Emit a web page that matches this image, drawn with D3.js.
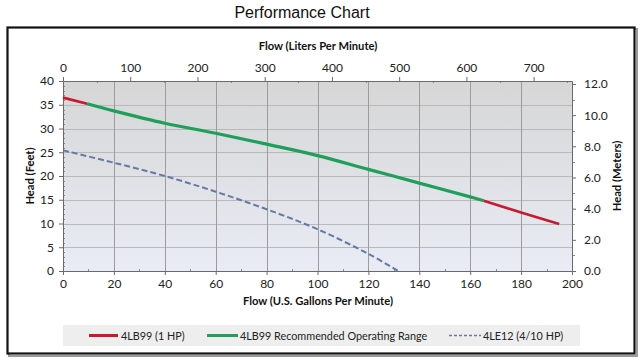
<!DOCTYPE html>
<html>
<head>
<meta charset="utf-8">
<script src="https://cdn.jsdelivr.net/npm/d3@7"></script>
<style>
  html, body { margin: 0; padding: 0; background: #ffffff; }
  svg { display: block; }
</style>
</head>
<body>
<svg id="chart" width="640" height="362"></svg>
<script>
// ---------- data ----------
const redStartFlow = [0, 9.5];
const redStartHead = [36.5, 35.2];
const greenFlow = [9.5, 20, 40, 60, 80, 100, 120, 140, 160, 165.3];
const greenHead = [35.2, 33.7, 31.1, 29.0, 26.7, 24.3, 21.4, 18.5, 15.6, 14.8];
const redEndFlow = [165.3, 180, 195];
const redEndHead = [14.8, 12.3, 9.9];
const le12Flow = [0, 20, 40, 60, 80, 100, 120, 131.8];
const le12Head = [25.4, 22.8, 20.0, 16.7, 13.0, 8.8, 3.6, 0];

const gpmTicks = [0, 20, 40, 60, 80, 100, 120, 140, 160, 180, 200];
const feetTicks = [0, 5, 10, 15, 20, 25, 30, 35, 40];
const literTicks = [0, 100, 200, 300, 400, 500, 600, 700];
const meterTicks = [0, 2, 4, 6, 8, 10, 12];
const legendLabels = ["4LB99 (1 HP)", "4LB99 Recommended Operating Range", "4LE12 (4/10 HP)"];

// ---------- setup ----------
const svg = d3.select("#chart");
const L = 63, R = 572, T = 81, B = 271;
const x = d3.scaleLinear().domain([0, 200]).range([L, R]);
const y = d3.scaleLinear().domain([0, 40]).range([B, T]);
const xL = d3.scaleLinear().domain([0, 200 * 3.78541]).range([L, R]);
const yM = d3.scaleLinear().domain([0, 40 * 0.3048]).range([B, T]);

const tickFont = "Lato, 'Open Sans', sans-serif";
const red = "#c8192f", green = "#1f9f5a", dashCol = "#6479a3";

// title
svg.append("text").attr("x", 302).attr("y", 18).attr("text-anchor", "middle")
  .attr("font-family", "'Liberation Sans', Arial, sans-serif").attr("font-size", 16)
  .attr("fill", "#111").text("Performance Chart");

// frame with shadow
svg.append("rect").attr("x", 9).attr("y", 29).attr("width", 628).attr("height", 327)
  .attr("fill", "none").attr("stroke", "#9a9a9a").attr("stroke-width", 2);
svg.append("rect").attr("x", 7.5).attr("y", 27.5).attr("width", 627).attr("height", 326)
  .attr("fill", "#ffffff").attr("stroke", "#111").attr("stroke-width", 2.2);

// plot background gradient
const defs = svg.append("defs");
const grad = defs.append("linearGradient").attr("id", "bg").attr("x1", 0).attr("y1", 0).attr("x2", 0).attr("y2", 1);
grad.append("stop").attr("offset", "0%").attr("stop-color", "#d6d6d6");
grad.append("stop").attr("offset", "100%").attr("stop-color", "#e9ecf5");
svg.append("rect").attr("x", L).attr("y", T).attr("width", R - L).attr("height", B - T).attr("fill", "url(#bg)");

// gridlines
svg.append("g").selectAll("line").data(feetTicks.filter(d => d > 0)).join("line")
  .attr("x1", L).attr("x2", R).attr("y1", d => Math.round(y(d)) + 0.5).attr("y2", d => Math.round(y(d)) + 0.5)
  .attr("stroke", "#b9b9b9").attr("stroke-width", 1);
svg.append("g").selectAll("line").data(gpmTicks.filter(d => d > 0 && d < 200)).join("line")
  .attr("x1", d => Math.round(x(d)) + 0.5).attr("x2", d => Math.round(x(d)) + 0.5).attr("y1", T).attr("y2", B)
  .attr("stroke", "#9c9c9c").attr("stroke-width", 1);

// axes
function styleAxis(g) {
  g.selectAll("path.domain").attr("stroke", "#6a6a6a");
  g.selectAll(".tick line").attr("stroke", "#6a6a6a");
  g.selectAll("text").attr("font-family", tickFont).attr("font-size", 12).attr("fill", "#222");
}

// minor ticks
const gMinor = svg.append("g").attr("stroke", "#8a8a8a").attr("stroke-width", 1);
d3.range(0, 41, 1).filter(d => d % 5 !== 0).forEach(d => {
  gMinor.append("line").attr("x1", L).attr("x2", L + 2).attr("y1", Math.round(y(d)) + 0.5).attr("y2", Math.round(y(d)) + 0.5);
});
d3.range(10, 200, 20).forEach(d => {
  gMinor.append("line").attr("x1", Math.round(x(d)) + 0.5).attr("x2", Math.round(x(d)) + 0.5).attr("y1", B).attr("y2", B - 2);
});
d3.range(50, 760, 100).forEach(d => {
  gMinor.append("line").attr("x1", Math.round(xL(d)) + 0.5).attr("x2", Math.round(xL(d)) + 0.5).attr("y1", T).attr("y2", T + 2);
});
d3.range(1, 12, 2).forEach(d => {
  gMinor.append("line").attr("x1", R).attr("x2", R + 3).attr("y1", Math.round(yM(d)) + 0.5).attr("y2", Math.round(yM(d)) + 0.5);
});

const axB = svg.append("g").attr("transform", `translate(0,${B})`)
  .call(d3.axisBottom(x).tickValues(gpmTicks).tickSize(4).tickPadding(4).tickSizeOuter(0));
styleAxis(axB);
const axLft = svg.append("g").attr("transform", `translate(${L},0)`)
  .call(d3.axisLeft(y).tickValues(feetTicks).tickSize(4).tickPadding(5).tickSizeOuter(0));
styleAxis(axLft);
const axT = svg.append("g").attr("transform", `translate(0,${T})`)
  .call(d3.axisTop(xL).tickValues(literTicks).tickSize(4).tickPadding(5).tickSizeOuter(0));
styleAxis(axT);
const axR = svg.append("g").attr("transform", `translate(${R},0)`)
  .call(d3.axisRight(yM).tickValues(meterTicks).tickFormat(d3.format(".1f")).tickSize(4).tickPadding(8).tickSizeOuter(0));
styleAxis(axR);

// axis titles
const titleFont = "Lato, 'Open Sans', sans-serif";
function axisTitle(sel) {
  return sel.attr("text-anchor", "middle").attr("font-family", titleFont).attr("font-weight", "bold")
    .attr("font-size", 11.2).attr("fill", "#111");
}
axisTitle(svg.append("text").attr("x", 318).attr("y", 305)).text("Flow (U.S. Gallons Per Minute)");
axisTitle(svg.append("text").attr("x", 318).attr("y", 50)).text("Flow (Liters Per Minute)");
axisTitle(svg.append("text").attr("transform", `translate(34,176) rotate(-90)`)).text("Head (Feet)");
axisTitle(svg.append("text").attr("transform", `translate(621,176) rotate(-90)`)).text("Head (Meters)");

// lines
const line = d3.line().x(d => x(d[0])).y(d => y(d[1])).curve(d3.curveCatmullRom.alpha(0.5));
const zip = (a, b) => a.map((v, i) => [v, b[i]]);
svg.append("path").datum(zip(le12Flow, le12Head)).attr("d", line)
  .attr("fill", "none").attr("stroke", dashCol).attr("stroke-width", 2).attr("stroke-dasharray", "6,3");
svg.append("path").datum(zip(greenFlow, greenHead)).attr("d", line)
  .attr("fill", "none").attr("stroke", green).attr("stroke-width", 3.2);
svg.append("path").datum(zip(redStartFlow, redStartHead)).attr("d", line)
  .attr("fill", "none").attr("stroke", red).attr("stroke-width", 2.6);
svg.append("path").datum(zip(redEndFlow, redEndHead)).attr("d", line)
  .attr("fill", "none").attr("stroke", red).attr("stroke-width", 2.6);

// legend
svg.append("rect").attr("x", 63).attr("y", 325).attr("width", 517).attr("height", 21).attr("fill", "#eeeeee");
const legItems = [
  { x1: 89, x2: 118, tx: 121, col: red, w: 3, dash: null },
  { x1: 207, x2: 238, tx: 240, col: green, w: 3, dash: null },
  { x1: 449, x2: 481, tx: 483, col: dashCol, w: 1.6, dash: "3,2" }
];
legItems.forEach((it, i) => {
  svg.append("line").attr("x1", it.x1).attr("x2", it.x2).attr("y1", 335.5).attr("y2", 335.5)
    .attr("stroke", it.col).attr("stroke-width", it.w).attr("stroke-dasharray", it.dash);
  svg.append("text").attr("x", it.tx).attr("y", 339.5).attr("font-family", tickFont).attr("font-size", 10.8)
    .attr("fill", "#222").text(legendLabels[i]);
});
</script>
</body>
</html>
